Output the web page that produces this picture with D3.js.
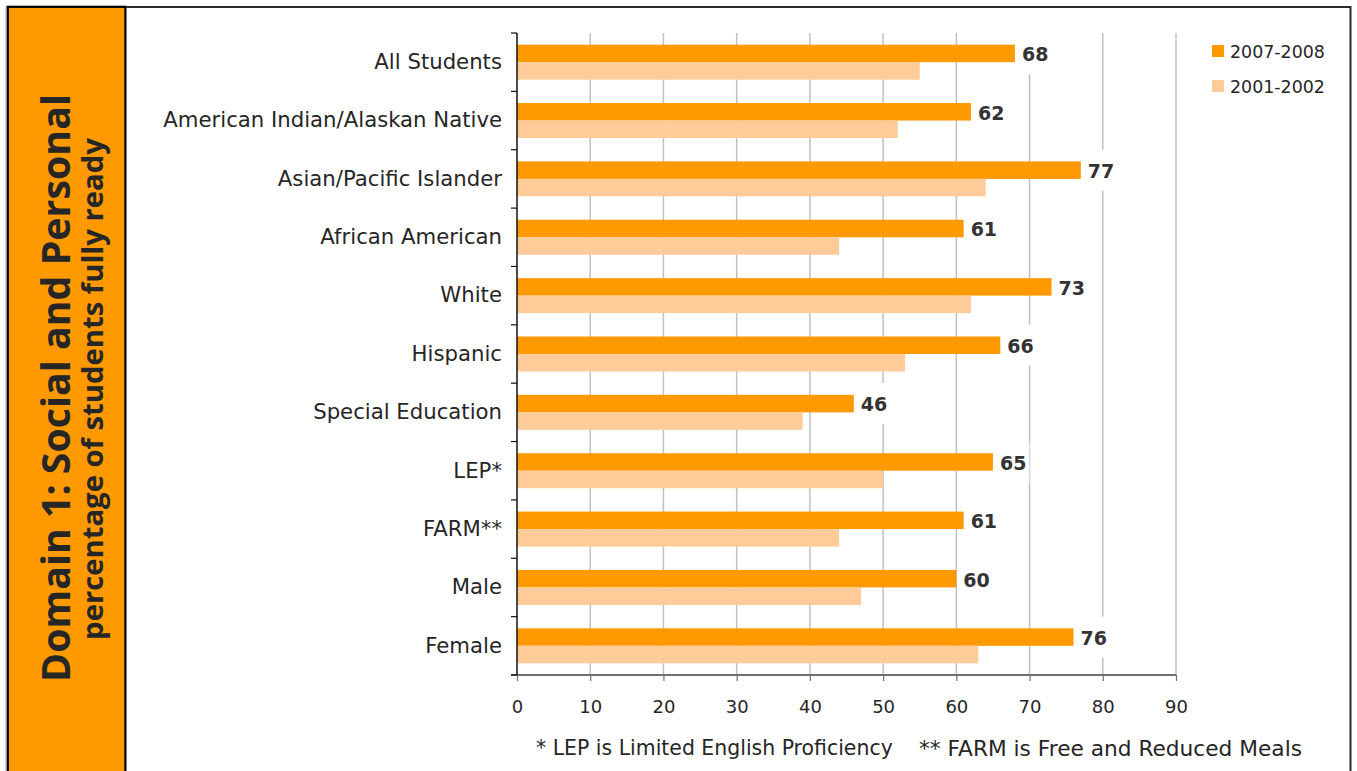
<!DOCTYPE html>
<html>
<head>
<meta charset="utf-8">
<script src="https://cdn.jsdelivr.net/npm/d3@7"></script>
<style>
  html, body { margin: 0; padding: 0; background: #fff; }
  svg { display: block; }
  text { font-family: "DejaVu Sans", sans-serif; }
</style>
</head>
<body>
<svg id="chart" width="1357" height="771"></svg>
<script>
const categories = ["All Students", "American Indian/Alaskan Native", "Asian/Pacific Islander",
  "African American", "White", "Hispanic", "Special Education", "LEP*", "FARM**", "Male", "Female"];
const values2007 = [68, 62, 77, 61, 73, 66, 46, 65, 61, 60, 76];
const values2001 = [55, 52, 64, 44, 62, 53, 39, 50, 44, 47, 63];
const seriesNames = ["2007-2008", "2001-2002"];
const seriesColors = ["#FF9900", "#FFCC99"];
const xTicks = [0, 10, 20, 30, 40, 50, 60, 70, 80, 90];
const titleText = "Domain 1: Social and Personal";
const subtitleText = "percentage of students fully ready";
const footnotes = ["* LEP is Limited English Proficiency", "** FARM is Free and Reduced Meals"];

const svg = d3.select("#chart");
const textColor = "#262626";

function fit(sel, target) {
  sel.style("font-size", "100px");
  const w = sel.node().getComputedTextLength();
  sel.style("font-size", (100 * target / w) + "px");
}

// frame
svg.append("line").attr("x1", 6).attr("x2", 6).attr("y1", 6).attr("y2", 771)
  .attr("stroke", "#c8c8c8").attr("stroke-width", 1.5);
svg.append("rect").attr("x", 7.8).attr("y", 6.8).attr("width", 117.6).attr("height", 780)
  .attr("fill", "#FF9900").attr("stroke", "#000").attr("stroke-width", 2.2);
svg.append("line").attr("x1", 126).attr("x2", 1351).attr("y1", 7).attr("y2", 7)
  .attr("stroke", "#2b2b2b").attr("stroke-width", 2);
svg.append("line").attr("x1", 1350.5).attr("x2", 1350.5).attr("y1", 6).attr("y2", 771)
  .attr("stroke", "#2b2b2b").attr("stroke-width", 2);

// side titles
const t1 = svg.append("text").text(titleText)
  .attr("transform", "translate(70,388) rotate(-90)")
  .attr("text-anchor", "middle").attr("fill", textColor)
  .style("font-family", "'Open Sans', sans-serif").style("font-weight", "700");
fit(t1, 588);
const t2 = svg.append("text").text(subtitleText)
  .attr("transform", "translate(103,389) rotate(-90)")
  .attr("text-anchor", "middle").attr("fill", textColor)
  .style("font-family", "'Open Sans', sans-serif").style("font-weight", "700");
fit(t2, 502);

// scales
const x = d3.scaleLinear().domain([0, 90]).range([517, 1176]);
const y = d3.scaleBand().domain(categories).range([33, 675]).padding(0);
const sub = d3.scaleBand().domain(seriesNames).range([y.bandwidth() * 0.2, y.bandwidth() * 0.8]).padding(0);

// gridlines
svg.append("g").selectAll("line").data(xTicks.filter(d => d > 0)).join("line")
  .attr("x1", d => x(d)).attr("x2", d => x(d))
  .attr("y1", 33).attr("y2", 675)
  .attr("stroke", "#c0c0c0").attr("stroke-width", 1.5);

// rows
const rows = categories.map((c, i) => ({ cat: c, v: [values2007[i], values2001[i]] }));

// labels
const labelG = svg.append("g");
const labels = labelG.selectAll("text").data(rows).join("text")
  .text(d => d.v[0])
  .attr("x", d => x(d.v[0]) + 7)
  .attr("y", d => y(d.cat) + sub(seriesNames[0]) + sub.bandwidth() / 2 + 1)
  .attr("dy", "0.36em")
  .attr("fill", "#333")
  .style("font-size", "19px").style("font-weight", "700");

const bgG = svg.insert("g", () => labelG.node());
labels.each(function(d) {
  const bb = this.getBBox();
  const cy = y(d.cat) + sub(seriesNames[0]) + sub.bandwidth() / 2;
  bgG.append("rect").attr("x", bb.x - 3).attr("width", bb.width + 6)
    .attr("y", cy - 20.5).attr("height", 41).attr("fill", "#fff");
});

// bars
const barG = svg.insert("g", () => labelG.node());
barG.selectAll("g").data(rows).join("g")
  .attr("transform", d => `translate(0,${y(d.cat)})`)
  .selectAll("rect").data(d => d.v.map((v, j) => ({ v, s: seriesNames[j], c: seriesColors[j] })))
  .join("rect")
  .attr("x", x(0)).attr("width", d => x(d.v) - x(0))
  .attr("y", d => sub(d.s)).attr("height", sub.bandwidth())
  .attr("fill", d => d.c);

// x axis
const xAxis = svg.append("g").attr("transform", "translate(0,675)")
  .call(d3.axisBottom(x).tickValues(xTicks).tickSize(6).tickPadding(19).tickFormat(d3.format("d")));
xAxis.select(".domain").attr("stroke", "#707070").attr("stroke-width", 2)
  .attr("d", `M${x(0) - 6},0H${x(90)}`);
xAxis.selectAll(".tick line").attr("stroke", "#707070").attr("stroke-width", 1.2);
xAxis.selectAll(".tick text").attr("fill", textColor)
  .style("font-size", "18px").style("font-family", "'DejaVu Sans', sans-serif");

// y axis
const yAxis = svg.append("g").attr("transform", `translate(${x(0)},0)`)
  .call(d3.axisLeft(y).tickSize(0).tickPadding(15));
yAxis.select(".domain").attr("stroke", "#111").attr("stroke-width", 1.5)
  .attr("d", "M0,33V675");
yAxis.selectAll(".tick text").attr("fill", textColor)
  .style("font-family", "'DejaVu Sans', sans-serif");
const boundaries = categories.map(c => y(c)).concat([y.range()[1]]);
yAxis.append("g").selectAll("line").data(boundaries).join("line")
  .attr("x1", -6).attr("x2", 0).attr("y1", d => d).attr("y2", d => d)
  .attr("stroke", "#111").attr("stroke-width", 1.2);

// fit category label size by longest label
const longest = yAxis.selectAll(".tick text").filter(d => d === categories[1]);
longest.style("font-size", "100px");
const lw = longest.node().getComputedTextLength();
yAxis.selectAll(".tick text").style("font-size", (100 * 339 / lw) + "px");

// legend
const legend = svg.append("g");
seriesNames.forEach((s, i) => {
  const ly = 51.5 + i * 35;
  legend.append("rect").attr("x", 1212).attr("y", ly - 6.5).attr("width", 12).attr("height", 12)
    .attr("fill", seriesColors[i]);
  const lt = legend.append("text").text(s).attr("x", 1230).attr("y", ly).attr("dy", "0.36em")
    .attr("fill", textColor);
  fit(lt, 95);
});

// footnotes
const f1 = svg.append("text").text(footnotes[0]).attr("x", 536).attr("y", 748).attr("dy", "0.36em").attr("fill", textColor);
fit(f1, 357);
const f2 = svg.append("text").text(footnotes[1]).attr("x", 919).attr("y", 748).attr("dy", "0.36em").attr("fill", textColor);
fit(f2, 383);
</script>
</body>
</html>
